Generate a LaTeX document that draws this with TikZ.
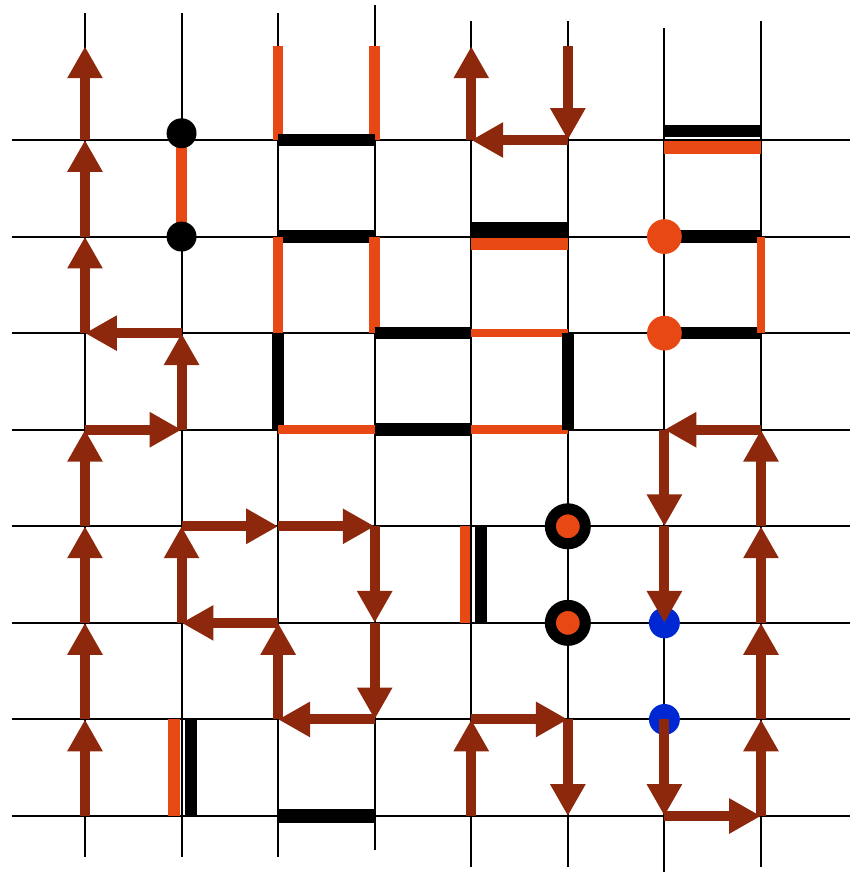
\documentclass[tikz,border=0pt]{standalone}
\usetikzlibrary{arrows.meta}
\definecolor{hopred}{RGB}{142,40,12}
\definecolor{bondorange}{RGB}{232,72,20}
\definecolor{siteblue}{RGB}{0,40,210}

\begin{document}
\begin{tikzpicture}[
    % ---- styles -------------------------------------------------
    gridline/.style={line width=0.6pt, draw=black},
    hop/.style={-{Triangle[length=9.4pt,width=9.8pt]}, line width=2.95pt, draw=hopred},
    redbond/.style={line width=3.1pt, draw=bondorange},
    blackbond/.style={line width=3.7pt, draw=black},
    blackdot/.style={circle, fill=black, minimum size=3.1mm, inner sep=0pt},
    orangedot/.style={circle, fill=bondorange, minimum size=3.6mm, inner sep=0pt},
    bluedot/.style={circle, fill=siteblue, minimum size=3.2mm, inner sep=0pt},
    ringdot/.style={circle, fill=bondorange, draw=black, line width=3.25pt,
        minimum size=3.62mm, inner sep=0pt},
]
\useasboundingbox (-0.88,-0.59) rectangle (7.92,8.45);

% =================== lattice ==================================
\foreach \i in {0,...,7}
  \foreach \j in {0,...,7}
    \coordinate (g\i\j) at (\i,\j);
\foreach \i in {0,2,3,4,5}
  \coordinate (top\i) at (\i,7.97);

\foreach \i/\t/\b in {0/8.32/-0.42, 1/8.32/-0.42, 2/8.32/-0.42, 3/8.40/-0.35,
                      4/8.23/-0.53, 5/8.23/-0.53, 6/8.16/-0.58, 7/8.23/-0.53}
  \draw[gridline] (\i,\b) -- (\i,\t);
\foreach \j in {0,...,7}
  \draw[gridline] (-0.76,\j) -- (7.92,\j);

% =================== bonds (top) ==============================
\draw[redbond]   (g27) -- (top2);
\draw[redbond]   (g37) -- (top3);
\draw[blackbond] (g27) -- (g37);
\draw[blackbond] (g26) -- (g36);
\draw[redbond]   (g26) -- (g25);
\draw[redbond]   (g36) -- (g35);
\draw[blackbond] (g35) -- (g45);
\draw[blackbond] (g25) -- (g24);
\draw[redbond, line width=2.5pt] (g24) -- (g34);
\draw[blackbond] (g34) -- (g44);
\draw[redbond, line width=2.5pt] (g45) -- (g55);
\draw[redbond, line width=2.5pt] (g44) -- (g54);
\draw[blackbond] (g55) -- (g54);

\draw[blackbond, line width=4.1pt] ([yshift=0.8mm]g46) -- ([yshift=0.8mm]g56);
\draw[redbond, line width=3.7pt] ([yshift=-0.78mm]g46) -- ([yshift=-0.78mm]g56);

\draw[blackbond, line width=3.5pt] ([yshift=0.93mm]g67) -- ([yshift=0.93mm]g77);
\draw[redbond, line width=3.8pt] ([yshift=-0.78mm]g67) -- ([yshift=-0.78mm]g77);

\draw[blackbond] (g66) -- (g76);
\draw[blackbond] (g65) -- (g75);
\draw[redbond, line width=2.4pt] (g76) -- (g75);

\draw[redbond, line width=3.5pt] (g16) -- (g17);

% =================== bonds (bottom) ===========================
\draw[redbond, line width=3.8pt] ([xshift=-0.78mm]g10) -- ([xshift=-0.78mm]g11);
\draw[blackbond] ([xshift=0.98mm]g10) -- ([xshift=0.98mm]g11);
\draw[blackbond, line width=4.1pt] (g20) -- (g30);
\draw[redbond, line width=2.9pt] ([xshift=-0.62mm]g42) -- ([xshift=-0.62mm]g43);
\draw[blackbond, line width=3.5pt] ([xshift=1.04mm]g42) -- ([xshift=1.04mm]g43);

% =================== sites ====================================
\node[blackdot]  (s17) at (1,7.07) {};
\node[blackdot]  (s16) at (g16) {};
\node[orangedot] (s66) at (g66) {};
\node[orangedot] (s65) at (g65) {};
\node[ringdot]   (s53) at (g53) {};
\node[ringdot]   (s52) at (g52) {};
\node[bluedot]   (s62) at (g62) {};
\node[bluedot]   (s61) at (g61) {};

% =================== hops =====================================
\foreach \a/\b in {g00/g01, g01/g02, g02/g03, g03/g04, g04/g14, g14/g15,
                   g15/g05, g05/g06, g06/g07, g07/top0}
  \draw[hop] (\a) -- (\b);
\foreach \a/\b in {g13/g23, g23/g33, g33/g32, g32/g31, g31/g21, g21/g22,
                   g22/g12, g12/g13}
  \draw[hop] (\a) -- (\b);
\foreach \a/\b in {top5/g57, g57/g47, g47/top4, g40/g41, g41/g51, g51/g50}
  \draw[hop] (\a) -- (\b);
\foreach \a/\b in {g74/g64, g64/g63, g63/g62, g61/g60, g60/g70, g70/g71,
                   g71/g72, g72/g73, g73/g74}
  \draw[hop] (\a) -- (\b);

\end{tikzpicture}
\end{document}
